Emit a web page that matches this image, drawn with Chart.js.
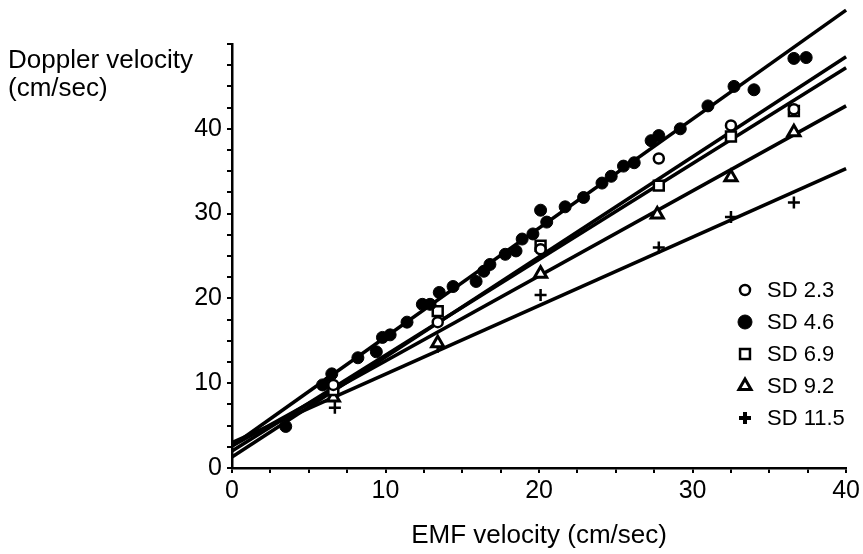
<!DOCTYPE html>
<html>
<head>
<meta charset="utf-8">
<script src="https://cdn.jsdelivr.net/npm/chart.js@4/dist/chart.umd.min.js"></script>
<style>
  body { margin: 0; background: #fff; }
  canvas { display: block; }
</style>
</head>
<body>
<canvas id="emfChart" width="863" height="554"></canvas>
<script>
// values (EMF velocity vs Doppler velocity, cm/sec)
const emfSD23 = [6.6, 13.4, 20.1, 27.8, 32.5, 36.6];
const dopSD23 = [9.8, 17.2, 25.8, 36.5, 40.4, 42.3];

const emfSD46 = [3.5, 5.9, 6.3, 6.5, 8.2, 9.4, 9.8, 10.3, 11.4, 12.4, 12.9, 13.5, 14.4, 15.9, 16.4, 16.8, 17.8, 18.5,
  18.9, 19.6, 20.1, 20.5, 21.7, 22.9, 24.1, 24.7, 25.5, 26.2, 27.3, 27.8, 29.2, 31.0, 32.7, 34.0, 36.6, 37.4];
const dopSD46 = [4.9, 9.8, 10.1, 11.1, 13.0, 13.7, 15.4, 15.7, 17.2, 19.3, 19.3, 20.7, 21.4, 22.0, 23.2, 24.0, 25.2, 25.6,
  27.0, 27.6, 30.4, 29.0, 30.8, 31.9, 33.6, 34.4, 35.6, 36.0, 38.6, 39.2, 40.0, 42.7, 45.0, 44.6, 48.3, 48.4];

const emfSD69 = [6.6, 13.4, 20.1, 27.8, 32.5, 36.6];
const dopSD69 = [9.2, 18.5, 26.2, 33.3, 39.1, 42.1];

const emfSD92 = [6.6, 13.4, 20.1, 27.7, 32.5, 36.6];
const dopSD92 = [8.3, 14.7, 22.9, 29.9, 34.3, 39.6];

const emfSD115 = [6.7, 13.4, 20.1, 27.8, 32.5, 36.6];
const dopSD115 = [7.1, 14.3, 20.4, 26.0, 29.6, 31.3];

// regression lines: Doppler value at EMF = 0 and EMF = 40
const fitX = [0, 40];
const fitSD23 = [1.3, 48.5];
const fitSD46 = [2.6, 54.0];
const fitSD69 = [2.0, 47.2];
const fitSD92 = [2.6, 42.7];
const fitSD115 = [3.0, 35.3];

const xTickLabels = [0, 10, 20, 30, 40];
const yTickLabels = [0, 10, 20, 30, 40];

const FONT = "'Liberation Sans', Arial, Helvetica, sans-serif";

const toPoints = (xs, ys) => xs.map((x, i) => ({ x, y: ys[i] }));

function pointSet(label, xs, ys, style) {
  return Object.assign({
    type: "scatter",
    label,
    data: toPoints(xs, ys),
    borderColor: "#000",
    order: 0,
    clip: false
  }, style);
}

function fitLine(ys) {
  return {
    type: "line",
    label: "",
    data: toPoints(fitX, ys),
    borderColor: "#000",
    borderWidth: 3.5,
    pointRadius: 0,
    showLine: true,
    fill: false,
    order: 1,
    clip: false
  };
}

const markers = [
  { label: "SD 2.3", xs: emfSD23, ys: dopSD23,
    style: { pointStyle: "circle", pointRadius: 5, pointBorderWidth: 2.5, backgroundColor: "#fff" } },
  { label: "SD 4.6", xs: emfSD46, ys: dopSD46,
    style: { pointStyle: "circle", pointRadius: 6, pointBorderWidth: 1, backgroundColor: "#000" } },
  { label: "SD 6.9", xs: emfSD69, ys: dopSD69,
    style: { pointStyle: "rect", pointRadius: 7, pointBorderWidth: 2.5, backgroundColor: "#fff" } },
  { label: "SD 9.2", xs: emfSD92, ys: dopSD92,
    style: { pointStyle: "triangle", pointRadius: 7, pointBorderWidth: 3, backgroundColor: "#fff" } },
  { label: "SD 11.5", xs: emfSD115, ys: dopSD115,
    style: { pointStyle: "cross", pointRadius: 6, pointBorderWidth: 2.5, backgroundColor: "#000" } }
];

const datasets = [
  ...markers.map(m => pointSet(m.label, m.xs, m.ys, m.style)),
  fitLine(fitSD46),
  fitLine(fitSD23),
  fitLine(fitSD69),
  fitLine(fitSD92),
  fitLine(fitSD115)
];

// y title sits horizontally above the axis, legend sits inside the plot
const extras = {
  id: "extras",
  afterDraw(chart) {
    const ctx = chart.ctx;
    ctx.save();
    ctx.fillStyle = "#000";
    ctx.font = `26px ${FONT}`;
    ctx.textAlign = "left";
    ctx.textBaseline = "alphabetic";
    ctx.fillText("Doppler velocity", 8, 68);
    ctx.fillText("(cm/sec)", 8, 96);

    const legendX = 745, textX = 767, top = 290, step = 32;
    ctx.font = `22px ${FONT}`;
    ctx.textBaseline = "middle";
    markers.forEach((m, i) => {
      const y = top + i * step;
      const s = m.style;
      ctx.strokeStyle = "#000";
      ctx.fillStyle = s.backgroundColor;
      ctx.lineWidth = s.pointBorderWidth + (s.pointStyle === "cross" ? 1.5 : 0);
      Chart.helpers.drawPoint(ctx, {
        pointStyle: s.pointStyle,
        radius: s.pointStyle === "circle" && s.backgroundColor === "#000" ? 7 : s.pointRadius,
        borderWidth: ctx.lineWidth,
        rotation: 0
      }, legendX, y);
      ctx.fillStyle = "#000";
      ctx.fillText(m.label, textX, y + 1);
    });
    ctx.restore();
  }
};

const axisGrid = {
  drawOnChartArea: false,
  drawTicks: true,
  tickLength: 5,
  color: "#000",
  lineWidth: 2
};

new Chart(document.getElementById("emfChart"), {
  data: { datasets },
  options: {
    responsive: false,
    animation: false,
    layout: { padding: { top: 44, right: 15, left: 0, bottom: 0 } },
    plugins: {
      legend: { display: false },
      tooltip: { enabled: false }
    },
    scales: {
      x: {
        type: "linear",
        min: 0,
        max: 40,
        grid: axisGrid,
        border: { display: true, color: "#000", width: 2.5 },
        ticks: {
          stepSize: 2.5,
          autoSkip: false,
          maxRotation: 0,
          padding: 3,
          color: "#000",
          font: { family: FONT, size: 25 },
          callback: v => xTickLabels.includes(v) ? String(v) : ""
        },
        title: {
          display: true,
          text: "EMF velocity (cm/sec)",
          color: "#000",
          font: { family: FONT, size: 26 },
          padding: { top: 0, bottom: 3 }
        },
        afterFit(scale) { scale.height = 86; }
      },
      y: {
        type: "linear",
        min: 0,
        max: 50,
        grid: axisGrid,
        border: { display: true, color: "#000", width: 2.5 },
        ticks: {
          stepSize: 2.5,
          autoSkip: false,
          padding: 5,
          color: "#000",
          font: { family: FONT, size: 25 },
          callback: v => yTickLabels.includes(v) ? String(v) : ""
        },
        afterFit(scale) { scale.width = 232; }
      }
    }
  },
  plugins: [extras]
});
</script>
</body>
</html>
